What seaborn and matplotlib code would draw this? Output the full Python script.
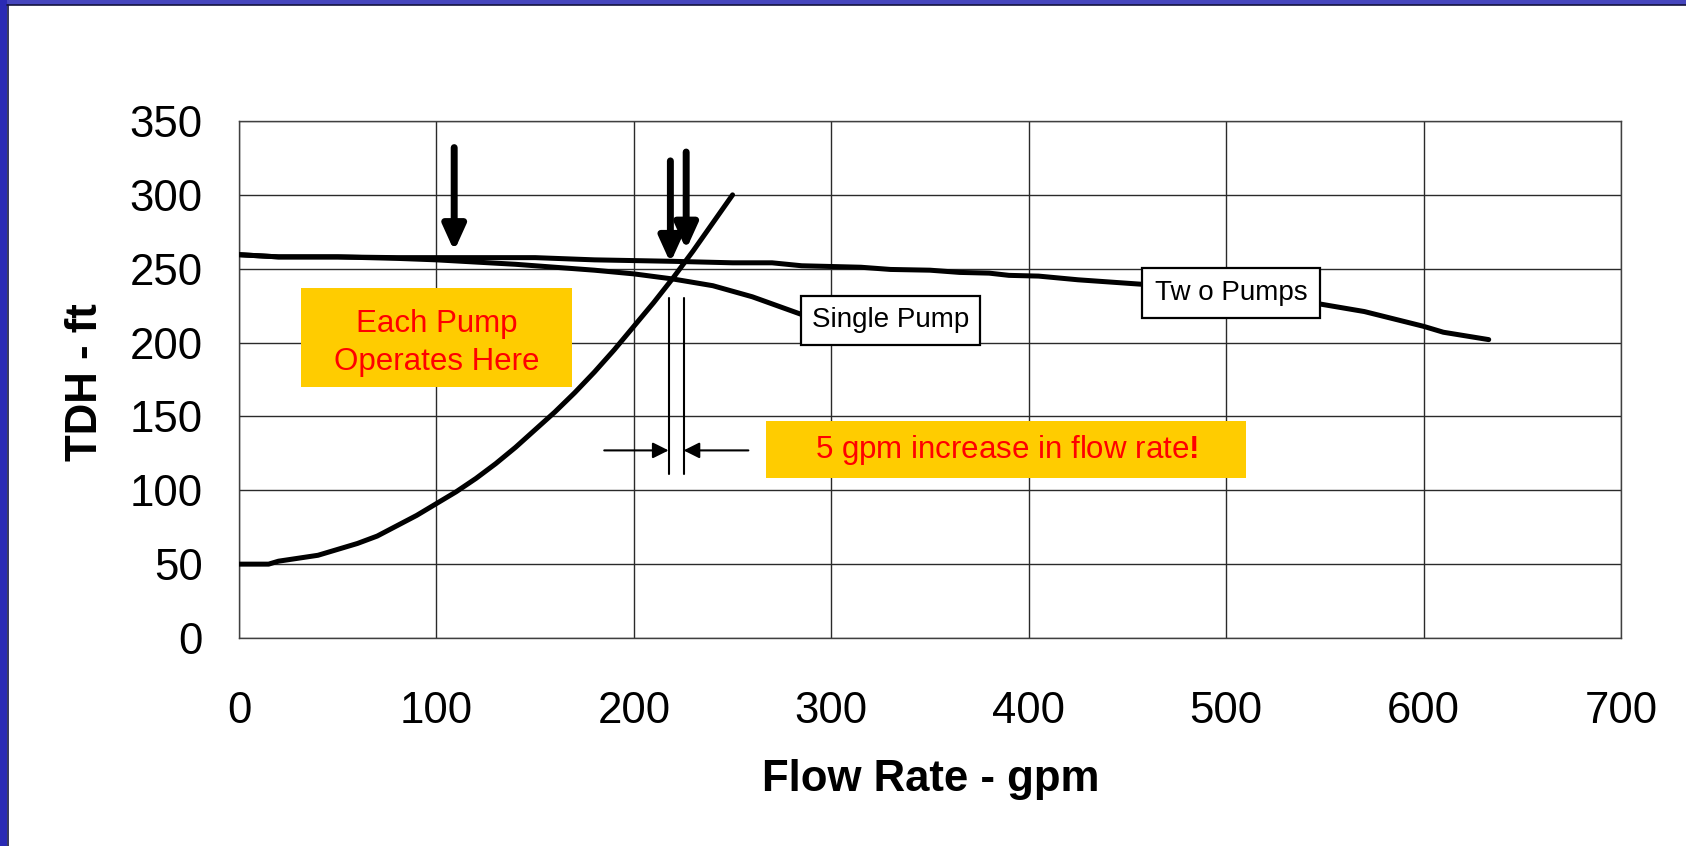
import numpy as np
import pandas as pd
import matplotlib
matplotlib.use("Agg")
import matplotlib.pyplot as plt
from matplotlib.patches import Rectangle
import seaborn as sns

# ---- data ----
system_q = [0, 15, 20, 30, 40, 50, 60, 70, 80, 90, 100, 110, 120, 130, 140, 150,
            160, 170, 180, 190, 200, 210, 220, 230, 240, 250]
system_h = [50, 50, 52, 54, 56, 60, 64, 69, 76, 83, 91, 99, 108, 118, 129, 141,
            153, 166, 180, 195, 211, 227, 244, 262, 281, 300]

single_q = [0, 20, 50, 80, 100, 120, 140, 160, 180, 200, 220, 240, 260, 285, 300]
single_h = [259.5, 258, 258, 257, 256, 254.5, 253, 251, 249, 246.5, 243, 238.5, 231, 219, 211]

two_q = [0, 20, 50, 80, 100, 150, 180, 200, 220, 250, 270, 285, 315, 330, 350, 365,
         380, 390, 405, 425, 457, 548, 570, 600, 610, 633]
two_h = [259.5, 258, 258, 257.5, 257.5, 257.5, 256, 255.5, 255, 254, 254, 252, 251,
         249.5, 249, 247.5, 247, 245.5, 245, 242.5, 239.5, 226, 221, 211, 207, 202]

x_ticks = [0, 100, 200, 300, 400, 500, 600, 700]
y_ticks = [0, 50, 100, 150, 200, 250, 300, 350]

x_label = "Flow Rate - gpm"
y_label = "TDH - ft"

# operating-point markers
arrow_q = [109, 218.5, 226.5]
arrow_tail_h = [332, 323, 329]
arrow_tip_h = [262, 254, 263]
op_q = [217.6, 225.2]

sns.set_theme(style="white")
plt.rcParams["font.family"] = ["Liberation Sans", "DejaVu Sans"]
plt.rcParams["mathtext.fontset"] = "custom"
plt.rcParams["mathtext.bf"] = "Liberation Sans:bold"
plt.rcParams["mathtext.rm"] = "Liberation Sans"

fig = plt.figure(figsize=(16.86, 8.46), dpi=100)
fig.patch.set_facecolor("white")
ax = fig.add_axes([239 / 1686, 1 - 638 / 846, (1621 - 239) / 1686, (638 - 121) / 846])

# slide border (blue strips top / left)
fig.patches.append(Rectangle((0, 1 - 5 / 846), 1, 5 / 846, transform=fig.transFigure,
                             facecolor="#4646BE", edgecolor="none", zorder=0))
fig.patches.append(Rectangle((0, 0), 7 / 1686, 1, transform=fig.transFigure,
                             facecolor="#2A2AB4", edgecolor="none", zorder=0))
fig.lines.append(plt.Line2D([7 / 1686, 1], [1 - 5.5 / 846, 1 - 5.5 / 846], transform=fig.transFigure,
                            color="#141440", lw=1.2))
fig.lines.append(plt.Line2D([7.5 / 1686, 7.5 / 1686], [0, 1 - 5 / 846], transform=fig.transFigure,
                            color="#141440", lw=1.2))

df_sys = pd.DataFrame({"q": system_q, "h": system_h})
df_one = pd.DataFrame({"q": single_q, "h": single_h})
df_two = pd.DataFrame({"q": two_q, "h": two_h})

for d in (df_sys, df_one, df_two):
    sns.lineplot(data=d, x="q", y="h", ax=ax, color="black", lw=3.6,
                 sort=False, estimator=None, zorder=3)

ax.set_xlim(0, 700)
ax.set_ylim(0, 350)
ax.set_xticks(x_ticks)
ax.set_yticks(y_ticks)
ax.set_xticklabels([str(v) for v in x_ticks])
ax.set_yticklabels([str(v) for v in y_ticks])
ax.grid(True, color="#2a2a2a", lw=1.0, zorder=0)
ax.set_axisbelow(True)
for s in ax.spines.values():
    s.set_color("#404040")
    s.set_linewidth(1.0)
ax.tick_params(axis="both", direction="out", length=10, width=1, color="#404040",
               labelsize=31.5, labelcolor="black")
ax.tick_params(axis="x", pad=28)
ax.tick_params(axis="y", pad=16)

ax.set_xlabel(x_label, fontsize=31.5, fontweight="bold", color="black")
ax.set_ylabel(y_label, fontsize=31.5, fontweight="bold", color="black")
ax.xaxis.set_label_coords((931 - 239) / (1621 - 239), -(759 - 638) / (638 - 121))
ax.yaxis.set_label_coords(-(239 - 106) / (1621 - 239), (638 - 382) / (638 - 121))

# big down arrows
for q, t, h in zip(arrow_q, arrow_tail_h, arrow_tip_h):
    ax.annotate("", xy=(q, h), xytext=(q, t),
                arrowprops=dict(arrowstyle="-|>,head_length=0.42,head_width=0.19",
                                lw=5, color="black", mutation_scale=36,
                                shrinkA=0, shrinkB=0), zorder=5)

# thin vertical lines at operating points
for q in op_q:
    ax.plot([q, q], [230, 111], color="black", lw=1.5, zorder=4)

# small horizontal arrows
ax.annotate("", xy=(op_q[0], 127), xytext=(185, 127),
            arrowprops=dict(arrowstyle="-|>,head_length=0.6,head_width=0.3", lw=1.5,
                            color="black", mutation_scale=16, shrinkA=0, shrinkB=0))
ax.annotate("", xy=(op_q[1], 127), xytext=(258, 127),
            arrowprops=dict(arrowstyle="-|>,head_length=0.6,head_width=0.3", lw=1.5,
                            color="black", mutation_scale=16, shrinkA=0, shrinkB=0))

# yellow note boxes
ax.add_patch(Rectangle((31.4, 170), 168.5 - 31.4, 237 - 170, facecolor="#FFCC00",
                       edgecolor="none", zorder=2))
ax.text(100, 199.5, "Each Pump\nOperates Here", ha="center", va="center",
        fontsize=22.5, color="#FF0000", zorder=6, linespacing=1.35)

ax.add_patch(Rectangle((267, 108), 510 - 267, 146.6 - 108, facecolor="#FFCC00",
                       edgecolor="none", zorder=2))
ax.text(388.5, 127, r"5 gpm increase in flow rate$\mathbf{!}$", ha="center", va="center",
        fontsize=22.5, color="#FF0000", zorder=6)

# curve labels
ax.add_patch(Rectangle((284.6, 198.2), 375.2 - 284.6, 231.8 - 198.2, facecolor="white",
                       edgecolor="black", lw=1.6, zorder=6))
ax.text((284.6 + 375.2) / 2, 215, "Single Pump", ha="center", va="center",
        fontsize=20, color="black", zorder=7)
ax.add_patch(Rectangle((457.6, 216.5), 547.4 - 457.6, 250.3 - 216.5, facecolor="white",
                       edgecolor="black", lw=1.6, zorder=6))
ax.text((457.6 + 547.4) / 2, 233.4, "Tw o Pumps", ha="center", va="center",
        fontsize=20, color="black", zorder=7)

fig.savefig("out.png", dpi=100)
